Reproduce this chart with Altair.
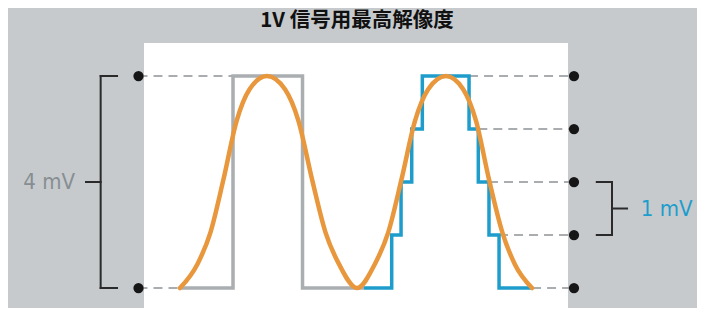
import altair as alt
import pandas as pd

TITLE = "1V 信号用最高解像度"
LABEL_LEFT = "4 mV"
LABEL_RIGHT = "1 mV"

# x: time (arbitrary units), y: level in mV
sine_t = [0.022, 0.218, 0.365, 0.511, 0.658, 0.804, 1.000,
          1.202, 1.354, 1.506, 1.657, 1.809, 2.011,
          2.211, 2.362, 2.511, 2.662, 2.811, 3.011,
          3.204, 3.349, 3.494, 3.644, 3.784, 3.978]
sine_v = [0, 0.45, 1.05, 2.05, 3.15, 3.75, 4,
          3.75, 3.15, 2.05, 1.05, 0.45, 0,
          0.45, 1.05, 2.05, 3.15, 3.75, 4,
          3.75, 3.15, 2.05, 1.05, 0.45, 0]

gray_t = [0.022, 0.618, 1.399, 2.090]
gray_v = [0, 4, 0, 0]

blue_t = [2.090, 2.401, 2.506, 2.626, 2.745, 3.270, 3.374, 3.494, 3.607, 3.978]
blue_v = [0, 1, 2, 3, 4, 3, 2, 1, 0, 0]

left_levels = [0, 4]
left_dash_from = [-0.444, -0.444]
left_dash_to = [0.022, 0.618]

right_levels = [0, 1, 2, 3, 4]
right_dash_from = [3.978, 3.607, 3.494, 3.374, 3.270]
right_dash_to = [4.449, 4.449, 4.449, 4.449, 4.449]

# bracket segments: x, x2, y, y2
br_x = [-0.869, -0.869, -0.869, -1.034, 4.876, 4.705, 4.705, 4.876]
br_x2 = [-0.869, -0.685, -0.685, -0.869, 4.876, 4.876, 4.876, 5.045]
br_y = [0, 0, 4, 2, 1, 1, 2, 1.5]
br_y2 = [4, 0, 4, 2, 2, 1, 2, 1.5]

panel = pd.DataFrame({"t": [-0.382], "t2": [4.382], "v": [4.623], "v2": [-0.377]})

xs = alt.Scale(domain=[-1.910, 5.831], zero=False, nice=False)
ys = alt.Scale(domain=[-0.377, 5.283], zero=False, nice=False)

def X(f="t"):
    return alt.X(f"{f}:Q", scale=xs, axis=None)

def Y(f="v"):
    return alt.Y(f"{f}:Q", scale=ys, axis=None)

bg = alt.Chart(panel).mark_rect(color="#ffffff").encode(
    x=X(), x2="t2:Q", y=Y(), y2="v2:Q")

dash_df = pd.DataFrame({
    "t": left_dash_from + right_dash_from,
    "t2": left_dash_to + right_dash_to,
    "v": left_levels + right_levels,
})
dashes = alt.Chart(dash_df).mark_rule(
    color="#8f9396", strokeWidth=1.6, strokeDash=[9, 6]).encode(
    x=X(), x2="t2:Q", y=Y())

gray_df = pd.DataFrame({"t": gray_t, "v": gray_v})
gray = alt.Chart(gray_df).mark_line(
    color="#aaaeb1", strokeWidth=3.5, interpolate="step-after",
    strokeJoin="miter", strokeCap="butt").encode(x=X(), y=Y(), order="t:Q")

blue_df = pd.DataFrame({"t": blue_t, "v": blue_v})
blue = alt.Chart(blue_df).mark_line(
    color="#1e9dcc", strokeWidth=3.5, interpolate="step-after",
    strokeJoin="miter", strokeCap="butt").encode(x=X(), y=Y(), order="t:Q")

sine_df = pd.DataFrame({"t": sine_t, "v": sine_v})
sine = alt.Chart(sine_df).mark_line(
    color="#e8973c", strokeWidth=4.5, interpolate="monotone",
    strokeCap="round").encode(x=X(), y=Y(), order="t:Q")

dot_df = pd.DataFrame({
    "t": [-0.444] * len(left_levels) + [4.449] * len(right_levels),
    "v": left_levels + right_levels,
})
dots = alt.Chart(dot_df).mark_circle(
    color="#161616", size=105, opacity=1).encode(x=X(), y=Y())

br_df = pd.DataFrame({"t": br_x, "t2": br_x2, "v": br_y, "v2": br_y2})
brackets = alt.Chart(br_df).mark_rule(
    color="#2a2a2a", strokeWidth=2, strokeCap="square").encode(
    x=X(), x2="t2:Q", y=Y(), y2="v2:Q")

LABEL_FONT = "DejaVu Sans Condensed, Liberation Sans Narrow, Roboto Condensed, Roboto, sans-serif"

lab_left = alt.Chart(pd.DataFrame({"t": [-1.157], "v": [2.0], "s": [LABEL_LEFT]})).mark_text(
    align="right", baseline="middle", font=LABEL_FONT, fontSize=22,
    color="#878e93").encode(x=X(), y=Y(), text="s:N")

lab_right = alt.Chart(pd.DataFrame({"t": [5.20], "v": [1.5], "s": [LABEL_RIGHT]})).mark_text(
    align="left", baseline="middle", font=LABEL_FONT, fontSize=22,
    color="#1e9dcc").encode(x=X(), y=Y(), text="s:N")

title = alt.Chart(pd.DataFrame({"t": [2.011], "v": [5.226], "s": [TITLE]})).mark_text(
    align="center", baseline="top", font="Noto Sans CJK JP", fontWeight="bold",
    fontSize=20.5, color="#111111").encode(x=X(), y=Y(), text="s:N")

chart = alt.layer(bg, dashes, gray, blue, sine, dots, brackets, lab_left, lab_right, title).properties(
    width=689, height=300,
    autosize=alt.AutoSizeParams(type="none"),
    padding=0,
    background="#c6cacd",
).configure_view(stroke=None)

chart.save("out.html", embed_options={"renderer": "svg", "actions": False})
